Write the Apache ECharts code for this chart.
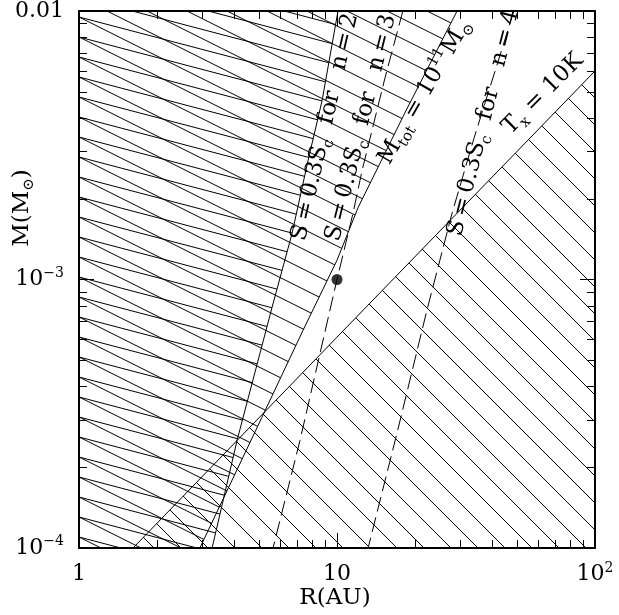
<!DOCTYPE html>
<html><head><meta charset="utf-8">
<script src="https://cdn.jsdelivr.net/npm/echarts@6/dist/echarts.min.js"></script>
<style>html,body{margin:0;padding:0;background:#fff}#c{width:619px;height:615px}</style>
</head><body><div id="c"></div>
<script>
// ---------- data ----------
const xTickValues = [1, 10, 100];
const xTickLabels = ['{n|1}', '{n|10}', '{n|10}{sup|2}'];
const yTickValues = [1e-4, 1e-3, 1e-2];
const yTickLabels = ['{n|10}{sup|−4}', '{n|10}{sup|−3}', '{n|0.01}'];
const xMinorTicks = [2, 3, 4, 5, 6, 7, 8, 9, 20, 30, 40, 50, 60, 70, 80, 90];
const yMinorTicks = [2e-4, 3e-4, 4e-4, 5e-4, 6e-4, 7e-4, 8e-4, 9e-4, 2e-3, 3e-3, 4e-3, 5e-3, 6e-3, 7e-3, 8e-3, 9e-3];

// S = 0.3 Sc for n=2 (solid)
const lineN2 = [[10.09, 1e-2], [8.75, 4.63e-3], [7.72, 2.77e-3], [6.69, 1.48e-3], [5.60, 7.87e-4], [4.10, 2.52e-4], [3.28, 1e-4]];
// M_tot = 10^11 Msun (solid)
const lineMtot = [[29.2, 1e-2], [18.5, 4.25e-3], [12.06, 1.85e-3], [10.0, 1.18e-3], [7.38, 6.46e-4], [5.12, 3.07e-4], [2.94, 1e-4]];
// S = 0.3 Sc for n=3 (dashed)
const lineN3 = [[18.0, 1e-2], [15.35, 5.64e-3], [12.5, 2.54e-3], [11.53, 1.76e-3], [10.0, 1e-3], [7.19, 2.52e-4], [5.65, 1e-4]];
// S = 0.3 Sc for n=4 (dashed)
const lineN4 = [[48.5, 1e-2], [41.0, 5.98e-3], [34.0, 3.37e-3], [27.9, 1.76e-3], [22.3, 7.67e-4], [17.2, 2.75e-4], [13.2, 1e-4]];
// T_x = 10 K (solid)
const lineTx = [[1.62, 1e-4], [10, 6.1e-4], [100, 5.98e-3]];
// marked point
const dotPoint = [[10, 1e-3]];

// ---------- hatching patterns ----------
function hatch(slope, spacing, phase) {
  const W = Math.round(spacing / slope), H = spacing;
  const c = document.createElement('canvas');
  c.width = W; c.height = H;
  const ctx = c.getContext('2d');
  ctx.strokeStyle = '#000'; ctx.lineWidth = 1;
  for (let k = -2; k <= 1; k++) {
    ctx.beginPath();
    ctx.moveTo(0, phase + k * H);
    ctx.lineTo(W, phase + k * H + H);
    ctx.stroke();
  }
  return { image: c, repeat: 'repeat' };
}
const patN2 = hatch(20 / 76, 20, 56.2 % 20);
const patMtot = hatch(0.5, 20, 17.5);
const patTx = hatch(1, 27, 16);

const regions = [
  { poly: [[1, 1e-2]].concat(lineN2, [[1, 1e-4]]), fill: patN2 },
  { poly: [[1, 1e-2]].concat(lineMtot, [[1, 1e-4]]), fill: patMtot },
  { poly: lineTx.concat([[100, 1e-4]]), fill: patTx }
];

const FONT = 'DejaVu Serif';
const chart = echarts.init(document.getElementById('c'), null, { renderer: 'canvas' });

function idxOf(vals, v) {
  const lv = Math.log10(v);
  let best = 0;
  vals.forEach((t, i) => { if (Math.abs(Math.log10(t) - lv) < Math.abs(Math.log10(vals[best]) - lv)) best = i; });
  return best;
}
const tickRich = {
  n: { fontFamily: FONT, fontSize: 22, color: '#000', lineHeight: 27 },
  sup: { fontFamily: FONT, fontSize: 14, color: '#000', lineHeight: 14, verticalAlign: 'top' }
};
function baseAxis(extra) {
  return Object.assign({
    type: 'log', logBase: 10,
    axisLine: { show: true, onZero: false, lineStyle: { color: '#000', width: 2 } },
    axisTick: { show: true, inside: true, length: 15, lineStyle: { color: '#000', width: 1 } },
    splitLine: { show: false },
    minorTick: { show: false }
  }, extra);
}

const solid = { color: '#000', width: 1, type: 'solid' };
const dashed = { color: '#000', width: 1, type: [15, 6] };
function lineSeries(data, style) {
  return { type: 'line', data: data, showSymbol: false, symbol: 'none', lineStyle: style, z: 5, silent: true, clip: true };
}

chart.setOption({
  animation: false,
  backgroundColor: '#fff',
  grid: { left: 79, right: 24, top: 10, bottom: 67, containLabel: false },
  xAxis: [
    baseAxis({ min: 1, max: 100, position: 'bottom',
      axisLabel: { show: true, margin: 13, formatter: v => xTickLabels[idxOf(xTickValues, v)], rich: tickRich } }),
    baseAxis({ min: 1, max: 100, position: 'top', axisLabel: { show: false } })
  ],
  yAxis: [
    baseAxis({ min: 1e-4, max: 1e-2, position: 'left',
      axisLabel: { show: true, margin: 15, formatter: v => yTickLabels[idxOf(yTickValues, v)], rich: tickRich } }),
    baseAxis({ min: 1e-4, max: 1e-2, position: 'right', axisLabel: { show: false } })
  ],
  series: [
    {
      type: 'custom', z: 1, silent: true,
      data: regions.map(r => r.poly[0]),
      renderItem: (params, api) => {
        const r = regions[params.dataIndex];
        return { type: 'polygon', shape: { points: r.poly.map(p => api.coord(p)) },
          style: { fill: r.fill, stroke: null } };
      }
    },
    {
      type: 'custom', z: 6, silent: true,
      data: [[1, 1e-4]],
      renderItem: (params, api) => {
        const cs = params.coordSys;
        const ch = [];
        const L = 8;
        const ln = (x1, y1, x2, y2) => ({ type: 'line', shape: { x1, y1, x2, y2 }, style: { stroke: '#000', lineWidth: 1 } });
        xMinorTicks.forEach(v => {
          const x = Math.round(api.coord([v, 1e-4])[0]) + 0.5;
          ch.push(ln(x, cs.y + cs.height, x, cs.y + cs.height - L));
          ch.push(ln(x, cs.y, x, cs.y + L));
        });
        yMinorTicks.forEach(v => {
          const y = Math.round(api.coord([1, v])[1]) + 0.5;
          ch.push(ln(cs.x, y, cs.x + L, y));
          ch.push(ln(cs.x + cs.width, y, cs.x + cs.width - L, y));
        });
        return { type: 'group', children: ch };
      }
    },
    lineSeries(lineN2, solid),
    lineSeries(lineMtot, solid),
    lineSeries(lineTx, solid),
    lineSeries(lineN3, dashed),
    lineSeries(lineN4, dashed),
    { type: 'scatter', data: dotPoint, symbol: 'circle', symbolSize: 11, itemStyle: { color: '#000' }, z: 7, silent: true }
  ]
});

// ---------- text labels ----------
const richAll = {
  t: { fontFamily: FONT, fontSize: 23, color: '#000', lineHeight: 30 },
  s: { fontFamily: FONT, fontSize: 15, color: '#000', lineHeight: 15, verticalAlign: 'bottom' },
  p: { fontFamily: FONT, fontSize: 15, color: '#000', lineHeight: 15, verticalAlign: 'top' }
};
const TS = '\u2009';
const sLabel = n => '{t|S' + TS + '=' + TS + '0.3S}{s|c}{t|  for   n' + TS + '=' + TS + n + '}';
const curveLabels = [
  { text: sLabel(2), at: [9.0, 3.7e-3], angle: 77 },
  { text: sLabel(3), at: [12.39, 3.67e-3], angle: 76 },
  { text: '{t|M}{s|tot}{t| = 10}{p|11}{t|M}{s|⊙}', at: [21.9, 5.0e-3], angle: 60 },
  { text: sLabel(4), at: [37.0, 3.83e-3], angle: 75.7 },
  { text: '{t|T}{s|x}{t| = 10K}', at: [62.9, 4.91e-3], angle: 45 }
];
const elems = curveLabels.map(l => {
  const p = chart.convertToPixel({ xAxisIndex: 0, yAxisIndex: 0 }, l.at);
  return { type: 'text', x: p[0], y: p[1], rotation: l.angle * Math.PI / 180, z: 10, silent: true,
    style: { text: l.text, rich: richAll, align: 'center', verticalAlign: 'middle' } };
});
elems.push({ type: 'text', x: 335, y: 598, z: 10, silent: true,
  style: { text: '{t|R(AU)}', rich: richAll, align: 'center', verticalAlign: 'middle' } });
elems.push({ type: 'text', x: 22, y: 208, rotation: Math.PI / 2, z: 10, silent: true,
  style: { text: '{t|M(M}{s|⊙}{t|)}', rich: richAll, align: 'center', verticalAlign: 'middle' } });
chart.setOption({ graphic: elems });
</script>
</body></html>
